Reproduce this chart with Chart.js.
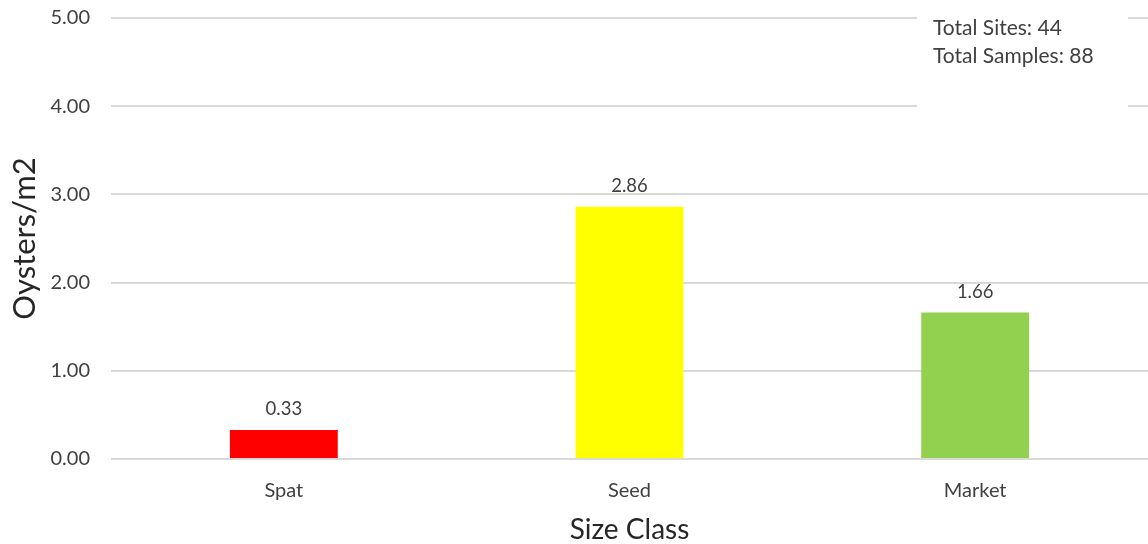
<!DOCTYPE html>
<html>
<head>
<meta charset="utf-8">
<script src="https://cdn.jsdelivr.net/npm/chart.js@4/dist/chart.umd.min.js"></script>
<style>
  html, body { margin: 0; padding: 0; background: #fff; }
  canvas { display: block; }
</style>
</head>
<body>
<canvas id="myChart" width="1148" height="544"></canvas>
<script>
'use strict'

/* Donnees du graphique */
const categories = ['Spat', 'Seed', 'Market'];
const valeurs = [0.33, 2.86, 1.66];
const couleurs = ['#FF0000', '#FFFF00', '#92D050'];
const infoLignes = ['Total Sites: 44', 'Total Samples: 88'];

const police = "Lato, 'Liberation Sans', sans-serif";

// etiquettes au-dessus des barres
const etiquettes = {
  id: 'etiquettes',
  afterDatasetsDraw(chart) {
    const ctx = chart.ctx;
    const meta = chart.getDatasetMeta(0);
    ctx.save();
    ctx.font = '18.5px ' + police;
    ctx.fillStyle = '#404040';
    ctx.textAlign = 'center';
    ctx.textBaseline = 'middle';
    meta.data.forEach((bar, i) => {
      ctx.fillText(valeurs[i].toFixed(2), bar.x, bar.y - 21);
    });
    ctx.restore();
  }
};

// cadre texte en haut a droite
const cadreInfo = {
  id: 'cadreInfo',
  afterDraw(chart) {
    const ctx = chart.ctx;
    ctx.save();
    ctx.fillStyle = '#ffffff';
    ctx.fillRect(917, 8, 211, 108);
    ctx.font = '21px ' + police;
    ctx.fillStyle = '#404040';
    ctx.textAlign = 'left';
    ctx.textBaseline = 'middle';
    infoLignes.forEach((t, i) => {
      ctx.fillText(t, 933, 28 + i * 28);
    });
    ctx.restore();
  }
};

const ctx1 = document.getElementById('myChart');

new Chart(ctx1, {
  type: 'bar',
  data: {
    labels: categories,
    datasets: [{
      data: valeurs,
      backgroundColor: couleurs,
      borderWidth: 0,
      categoryPercentage: 1,
      barPercentage: 0.312
    }]
  },
  options: {
    responsive: false,
    animation: false,
    layout: { padding: { top: 18, right: 0, left: 0, bottom: 0 } },
    plugins: {
      legend: { display: false },
      tooltip: { enabled: false }
    },
    scales: {
      x: {
        grid: { display: false, drawTicks: false },
        border: { display: false },
        ticks: {
          color: '#404040',
          font: { family: police, size: 20 },
          padding: 20
        },
        title: {
          display: true,
          text: 'Size Class',
          color: '#262626',
          font: { family: police, size: 28 },
          padding: { top: 0, bottom: -3 }
        },
        afterFit(scale) {
          scale.height = 85;
          scale.paddingLeft = 0;
          scale.paddingRight = 0;
        }
      },
      y: {
        min: 0,
        max: 5,
        grid: { color: '#d9d9d9', lineWidth: 2, drawTicks: false },
        border: { display: false },
        ticks: {
          stepSize: 1,
          color: '#404040',
          font: { family: police, size: 20 },
          padding: 21,
          callback: v => v.toFixed(2)
        },
        title: {
          display: true,
          text: 'Oysters/m2',
          color: '#262626',
          font: { family: police, size: 31 },
          padding: { top: 6, bottom: 0 }
        },
        afterFit(scale) {
          scale.width = 111;
          scale.paddingTop = 0;
          scale.paddingBottom = 0;
        }
      }
    }
  },
  plugins: [etiquettes, cadreInfo]
});
</script>
</body>
</html>
